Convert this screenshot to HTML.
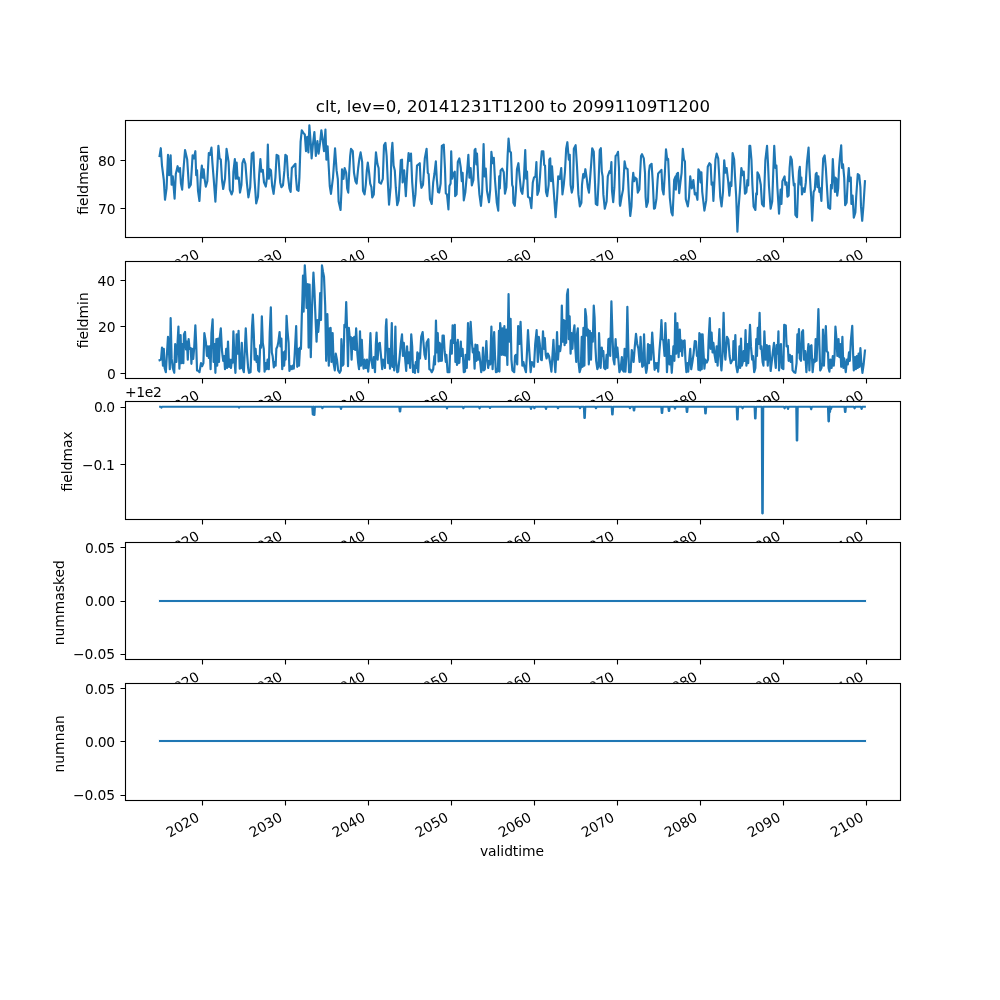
<!DOCTYPE html>
<html lang="en"><head><meta charset="utf-8"><title>clt, lev=0, 20141231T1200 to 20991109T1200</title>
<style>
html,body{margin:0;padding:0;background:#fff;width:1000px;height:1000px;overflow:hidden}
svg{display:block}
text{font-family:"DejaVu Sans","Liberation Sans",sans-serif;font-size:13.889px;fill:#000;}
.t{font-size:16.667px}
.ax{fill:#fff;stroke:none}
.sp{fill:none;stroke:#000;stroke-width:1.11;stroke-linecap:square}
.tk{fill:none;stroke:#000;stroke-width:1.11}
.ln{fill:none;stroke:#1f77b4;stroke-width:2.083;stroke-linejoin:round;stroke-linecap:square}
</style></head>
<body>
<svg width="1000" height="1000" viewBox="0 0 1000 1000">
<rect x="0" y="0" width="1000" height="1000" fill="#fff"/>
<g>
<rect class="ax" x="125" y="120" width="775" height="117.24"/>
<path class="ln" style="stroke-width:2.14" d="M159.6 156 L160.8 148.2 L162 165.6 L163.8 180 L165 199.8 L166.56 188.4 L168 154.8 L169.2 175.2 L170.64 155.4 L171.6 184.8 L172.8 176.4 L174.6 198.6 L175.8 174 L177.6 166.2 L178.8 171.6 L180 168 L180.96 183.6 L182.16 189.6 L183.6 168 L185.04 150 L187.2 159.6 L189 187.8 L190.8 184.8 L192.6 155.4 L193.8 158.4 L195.36 151.2 L196.2 175.2 L197.04 170.4 L198 190.8 L199.44 201 L201 174 L201.84 165.6 L202.8 177.6 L203.64 169.2 L204.6 178.8 L205.8 186.6 L207.36 181.2 L208.8 153 L210 154.8 L211.44 147.6 L212.4 162.6 L213.6 177.6 L215.4 201.6 L216.6 180 L217.44 165.6 L218.4 145.8 L219.6 158.4 L220.8 159.6 L222 180 L223.2 189 L225 178.8 L226.56 148.8 L228.6 162 L229.8 189.6 L231.6 194.4 L232.8 190.8 L233.4 171.6 L234.84 159 L235.8 178.8 L236.64 162.6 L237.6 178.8 L238.8 177.6 L240 192.6 L241.44 184.8 L242.4 163.2 L243.84 159 L245.4 163.8 L246.96 183.6 L248.4 197.4 L250.2 187.2 L251.76 153.6 L253.44 152.4 L254.4 177.6 L256.2 203.4 L258 196.8 L259.2 174 L260.4 159 L261.36 171.6 L262.8 169.8 L264 182.4 L265.8 186.6 L267 177.6 L267.84 144.6 L268.8 178.8 L270 169.2 L270.96 170.4 L272.16 186 L273.6 193.8 L275.4 177.6 L276.6 154.8 L278.4 156 L280.2 182.4 L281.4 187.2 L282.96 185.4 L284.4 170.4 L285.36 154.8 L286.8 156 L288 176.4 L289.44 188.4 L290.64 192 L291.84 168 L293.4 166.2 L295.44 163.8 L295.8 175.2 L297 189.6 L298.56 190.8 L299.4 177.6 L300.6 141.6 L301.8 130.2 L303.6 133.2 L304.8 134.4 L306 151.2 L307.2 136.8 L308.4 152.4 L309.36 125.4 L310.8 144 L311.64 158.4 L312.84 145.2 L314.4 132 L315.84 156 L317.4 141 L318.6 153.6 L320.16 142.2 L321.36 130.2 L322.8 140.4 L324 151.2 L325.44 129.6 L326.4 159.6 L327.6 146.4 L328.8 168 L329.76 186 L330.96 193.8 L333 177.6 L335.04 148.2 L336.6 170.4 L337.8 178.8 L338.64 201.6 L340.56 210 L341.4 192 L342 169.2 L343.44 178.8 L344.64 168 L346.2 172.8 L347.16 188.4 L348.24 192.6 L349.2 172.8 L350.16 156 L351 148.8 L352.8 151.2 L354 172.8 L355.44 181.2 L356.64 183.6 L358.2 168 L359.4 158.4 L360.6 152.4 L362.16 162 L363 190.8 L364.56 194.4 L365.76 184.8 L366.84 170.4 L367.8 162.6 L369 171.6 L370.2 183.6 L371.4 187.2 L372.24 197.4 L373.8 194.4 L375 168 L375.96 152.4 L377.4 163.8 L378.6 168 L379.2 182.4 L381 183.6 L382.8 178.8 L384 145.2 L385.44 142.8 L386.64 156 L387.84 182.4 L389.04 204.6 L390.6 187.2 L391.44 153.6 L392.4 142.8 L393.6 165.6 L394.8 170.4 L395.76 187.2 L397.2 205.2 L398.64 200.4 L399.6 183.6 L400.8 160.2 L402 159.6 L402.6 182.4 L404.16 170.4 L405.84 196.2 L407.4 168 L408.6 153 L409.8 160.8 L411 153.6 L412.2 182.4 L414 205.8 L415.44 194.4 L417 165.6 L419.76 163.2 L420.6 181.2 L421.44 187.8 L423 184.8 L424.8 158.4 L426.6 148.8 L427.8 172.8 L428.64 174 L429.96 199.2 L431.76 204 L433.2 182.4 L434.4 174 L435.84 161.4 L436.8 178.8 L438 192 L439.2 192.6 L440.64 183.6 L441.84 145.8 L443.76 144.6 L444.96 168 L445.8 193.2 L447 194.4 L448.44 209.4 L449.4 186 L450.6 183.6 L451.2 151.2 L452.16 178.8 L453.36 174 L454.8 171.6 L455.16 196.2 L456.6 194.4 L457.8 162 L459.36 158.4 L460.8 168 L461.76 181.2 L462.6 172.8 L463.8 200.4 L465.36 192 L467.4 168 L468.36 154.8 L469.44 177.6 L470.64 168 L471.84 185.4 L473.4 180 L474.6 150 L475.44 148.8 L476.4 164.4 L477 153.6 L478.2 177.6 L479.4 194.4 L480.96 205.8 L482.16 192 L483.6 144 L484.56 176.4 L485.76 168.6 L486.96 190.8 L489 202.2 L490.2 189.6 L491.4 151.8 L492.6 163.2 L493.8 157.8 L495 180 L496.8 202.8 L498.24 210.6 L499.2 176.4 L499.8 188.4 L500.64 170.4 L502.2 168.6 L503.76 172.2 L504.96 193.8 L506.4 187.2 L507.6 156 L508.56 138.6 L509.76 151.2 L510.96 152.4 L512.16 184.8 L513 187.2 L513.36 202.8 L514.8 205.8 L516 189.6 L516.96 169.2 L518.4 163.2 L519.6 176.4 L521.04 190.8 L522.36 193.8 L523.8 180 L525.24 150 L526.2 178.8 L527.04 171.6 L528 196.8 L529.8 198 L531.36 208.2 L532.8 182.4 L534 177.6 L535.44 176.4 L536.4 162 L537.36 195 L538.8 190.8 L540 176.4 L540.96 160.8 L541.8 151.2 L543.36 151.2 L544.2 165 L545.04 165.6 L546 192 L547.2 196.2 L548.64 184.8 L549.36 159.6 L550.2 158.4 L551.04 181.2 L552 166.2 L552.96 180 L554.16 196.8 L555.6 217.2 L557.04 198 L558.24 176.4 L559.8 178.8 L561.24 168 L562.44 194.4 L563.76 184.8 L564.96 171.6 L566.16 148.8 L567.36 142.2 L568.8 159.6 L569.76 154.8 L570.6 184.8 L571.8 192.6 L573 187.2 L573.84 148.8 L575.64 145.2 L576.96 165.6 L578.4 194.4 L579.84 206.4 L581.4 202.8 L582 184.8 L583.2 174 L584.16 177.6 L585.36 169.2 L586.8 178.8 L587.76 187.2 L588.96 192.6 L590.16 177.6 L591.36 161.4 L592.2 148.2 L593.76 151.8 L594.96 182.4 L595.8 204 L597.36 205.2 L598.56 182.4 L599.76 150 L600.84 148.2 L601.8 171.6 L602.64 176.4 L603.36 194.4 L604.8 208.8 L606.6 201.6 L607.8 176.4 L609.6 171 L610.56 172.8 L611.4 162 L612 190.8 L613.2 202.2 L614.4 187.2 L615.6 156 L616.8 154.8 L618 151.8 L618.96 168 L619.8 204 L620.16 205.8 L621.6 196.8 L623.04 189.6 L624.6 161.4 L625.8 168 L627.6 169.2 L628.8 194.4 L630.24 216 L631.44 206.4 L632.4 182.4 L633.24 172.8 L634.2 181.2 L635.04 177.6 L636.6 178.8 L637.8 192.6 L639.36 189.6 L640.2 171.6 L641.04 156 L642 154.2 L643.8 158.4 L645 172.8 L645.6 196.8 L646.44 207 L648 201.6 L648.96 171.6 L649.8 165.6 L651.6 163.8 L652.8 182.4 L654 208.8 L654.96 208.2 L656.4 199.2 L657.6 180 L658.2 173.4 L660 171.6 L661.44 169.8 L662.4 189.6 L663.6 194.4 L664.8 174 L666 149.4 L667.2 159.6 L668.16 159 L669 177.6 L669.84 198 L671.4 212.4 L672.6 215.4 L673.44 196.8 L674.16 180 L675.6 176.4 L675.84 189.6 L676.8 174 L678 172.8 L679.2 193.2 L680.4 182.4 L681.6 172.8 L682.8 148.8 L684 159.6 L684.96 161.4 L685.8 199.2 L687.84 206.4 L689.04 196.8 L690.24 176.4 L691.8 188.4 L693.36 180 L694.8 194.4 L696 193.2 L697.44 199.8 L698.4 169.2 L699.6 171.6 L700.56 182.4 L701.4 172.2 L702.24 192 L704.4 210.6 L706.2 200.4 L707.76 166.8 L709.44 163.2 L710.64 164.4 L711.6 184.8 L712.56 182.4 L713.4 201 L714.6 177.6 L715.44 159.6 L716.64 153.6 L718.2 158.4 L719.04 172.8 L720.24 196.8 L721.56 206.4 L723 192 L724.2 160.2 L725.4 172.8 L726.6 168 L728.16 181.2 L729.36 195.6 L730.56 182.4 L731.4 186 L732.6 153 L734.16 159.6 L735 176.4 L736.2 196.8 L737.4 231.6 L738.6 207.6 L739.8 192 L741.36 168 L742.8 175.2 L743.76 171.6 L744.96 193.8 L746.4 192 L747.36 180 L748.2 185.4 L749.4 145.8 L750.24 145.8 L751.44 159.6 L752.4 184.8 L753.6 206.4 L755.4 210 L756.24 193.2 L756.96 194.4 L757.44 172.2 L759 175.2 L760.8 184.8 L762 204 L763.8 206.4 L764.64 180 L765.36 160.2 L767.04 145.8 L768 163.2 L768.96 186 L770.64 208.8 L772.2 201.6 L773.4 168 L774.24 145.8 L775.44 168 L776.4 165.6 L777.36 187.2 L779.04 213.6 L780.6 189.6 L781.44 204 L782.4 181.2 L784.56 176.4 L785.4 184.8 L786.6 182.4 L787.44 196.8 L788.64 195.6 L789.6 168 L790.56 156.6 L791.76 159.6 L792.96 176.4 L793.8 185.4 L794.64 183.6 L795.36 214.8 L797.04 217.2 L798 190.8 L798.96 171.6 L799.8 166.8 L800.64 184.8 L801.36 177.6 L801.96 194.4 L803.4 188.4 L804.6 192 L805.8 182.4 L807 162 L808.56 147.6 L809.4 168 L810.6 188.4 L811.2 196.8 L812.16 220.8 L813.6 192 L814.8 189.6 L815.76 174 L816.6 172.8 L817.44 187.2 L818.4 176.4 L819.36 192 L820.2 188.4 L821.4 201 L822.24 180 L823.2 158.4 L824.64 155.4 L825.84 168 L827.04 188.4 L828.24 207.6 L830.16 208.8 L831 184.8 L831.84 188.4 L832.8 159 L833.76 176.4 L834.96 192 L835.44 177.6 L836.4 178.8 L837.24 195.6 L838.2 188.4 L839.04 168 L839.76 159 L841.2 145.2 L842.04 168 L843 164.4 L844.2 177.6 L845.16 205.2 L846.6 202.8 L847.8 180 L848.76 168 L849.6 181.2 L850.8 177.6 L851.4 204 L852.6 195.6 L853.8 217.8 L855.36 212.4 L856.2 196.8 L857.76 174 L859.2 175.2 L860.4 187.2 L861 206.4 L862.2 220.8 L863.4 206.4 L864.96 181.2"/>
<path class="tk" d="M202.5 237.5 V242.5 M285.5 237.5 V242.5 M368.5 237.5 V242.5 M451.5 237.5 V242.5 M534.5 237.5 V242.5 M617.5 237.5 V242.5 M700.5 237.5 V242.5 M783.5 237.5 V242.5 M866.5 237.5 V242.5 M120.5 208.5 H125.5 M120.5 160.5 H125.5"/>
<text text-anchor="end" transform="translate(200.35 257.14) rotate(-30)">2020</text>
<text text-anchor="end" transform="translate(283.39 257.14) rotate(-30)">2030</text>
<text text-anchor="end" transform="translate(366.4 257.14) rotate(-30)">2040</text>
<text text-anchor="end" transform="translate(449.44 257.14) rotate(-30)">2050</text>
<text text-anchor="end" transform="translate(532.46 257.14) rotate(-30)">2060</text>
<text text-anchor="end" transform="translate(615.5 257.14) rotate(-30)">2070</text>
<text text-anchor="end" transform="translate(698.51 257.14) rotate(-30)">2080</text>
<text text-anchor="end" transform="translate(781.55 257.14) rotate(-30)">2090</text>
<text text-anchor="end" transform="translate(864.57 257.14) rotate(-30)">2100</text>
<text text-anchor="end" x="115.6" y="214">70</text>
<text text-anchor="end" x="115.7" y="166">80</text>
<text text-anchor="middle" transform="translate(87.6 180.12) rotate(-90)">fieldmean</text>
<text class="t" text-anchor="middle" x="512.9" y="111.67" textLength="394.2">clt, lev=0, 20141231T1200 to 20991109T1200</text>
<rect class="sp" x="125.5" y="120.5" width="775" height="117"/>
</g>
<g>
<rect class="ax" x="125" y="260.69" width="775" height="117.24"/>
<path class="ln" style="stroke-width:2.19" d="M159.6 360.2 L161.04 359.6 L162 347.6 L162.96 365.6 L163.8 348.8 L164.64 368 L165.84 372.2 L166.8 356 L168 336.8 L168.96 351.2 L169.8 369.2 L170.64 318.2 L171.6 358.4 L172.8 368 L174.24 372.8 L175.2 344 L176.4 362 L177.36 346.4 L178.44 326.6 L179.4 368.6 L180.6 335 L181.44 363.2 L182.4 344 L183.36 363.2 L183.96 334.4 L185.04 332 L186 349.4 L186.96 341.6 L187.8 359.6 L188.64 339.2 L189.6 348.8 L190.8 348.2 L191.4 363.8 L192.24 348.8 L193.2 359 L194.16 348.2 L195.36 325.4 L196.2 344 L197.04 370.4 L198.6 371 L199.44 372.2 L201 363.2 L202.2 366.2 L203.4 363.2 L204.36 333.2 L205.8 341.6 L207 356 L207.84 346.4 L208.8 357.8 L209.64 346.4 L210.6 369.2 L211.44 333.2 L212.64 319.4 L213.6 362 L214.44 344 L215.4 372.8 L216.36 339.2 L217.2 365.6 L218.16 338.6 L219 362 L219.84 336.8 L220.8 328.4 L222 351.2 L223.2 360.8 L224.16 356 L225 369.2 L226.2 348.8 L227.04 368 L228 341.6 L228.96 366.8 L229.8 359.6 L231 368 L231.84 359.6 L232.56 362.6 L233.4 331.4 L234.6 362 L235.44 372.8 L236.64 334.4 L237.6 353.6 L238.56 330.8 L239.76 368.6 L240.96 368 L241.8 342.8 L242.64 368 L243.84 372.2 L244.8 350 L245.76 328.4 L246.96 352.4 L248.16 368 L249 372.8 L250.56 372.2 L251.4 347.6 L252 327.2 L252.84 314.6 L253.8 334.4 L254.64 359.6 L255.6 348.8 L256.56 362 L257.4 356 L258.24 370.4 L259.2 371.6 L260.16 345.2 L261 347.6 L261.84 316.4 L262.8 342.8 L263.76 348.8 L264.6 371.6 L265.8 363.2 L266.64 369.2 L267.6 359.6 L268.8 369.2 L269.76 332 L270.84 307.4 L271.8 352.4 L272.64 356 L273.84 367.4 L274.8 362 L275.64 365.6 L276.36 348.8 L277.44 346.4 L278.4 341.6 L279.6 332 L280.44 346.4 L281.4 338.6 L282.24 369.2 L283.44 352.4 L284.16 365.6 L285 351.2 L285.6 359.6 L286.56 315.8 L287.4 329.6 L288.6 342.8 L289.44 371 L291 366.2 L291.84 369.2 L292.8 365.6 L293.76 368.6 L294.6 356 L296.16 326 L297.24 366.8 L298.2 348.8 L299.04 365.6 L300 347.6 L300.96 348.8 L301.8 316.4 L302.4 299.6 L303 275.6 L303.6 311.6 L304.8 265.4 L305.76 281.6 L306.6 308 L307.8 284 L308.64 347.6 L309.6 284.6 L310.8 357.2 L312 308 L313.44 272.6 L314.4 290 L315.6 320 L316.56 341.6 L317.4 320 L318.24 332 L319.2 320 L320.16 293 L321 320 L321.96 265.4 L323.04 272 L324 276.8 L325.2 305.6 L326.16 360.8 L327.36 314 L328.8 365.6 L329.76 328.4 L330.6 327.8 L331.44 362 L332.64 333.2 L333.6 363.2 L334.8 370.4 L335.76 353.6 L336.96 359.6 L338.16 370.4 L339.6 372.8 L340.8 370.4 L341.4 339.2 L342.6 365.6 L343.44 364.4 L344.4 324.8 L345.36 327.2 L346.2 302 L347.04 327.2 L348 366.2 L348.84 327.8 L349.8 338 L350.64 336.8 L351.6 359.6 L352.56 338 L353.4 348.8 L354.24 336.8 L355.2 350 L356.16 328.4 L357.36 353.6 L358.2 363.2 L359.04 369.2 L360 331.4 L360.96 365.6 L361.8 339.8 L362.64 358.4 L363.6 368.6 L364.56 359.6 L365.76 368 L366.96 359.6 L368.16 371.6 L369.36 359.6 L370.44 333.2 L371.4 359.6 L372.6 368 L373.8 357.2 L375 372.2 L375.84 344 L376.56 332.6 L377.64 359.6 L378.6 344 L379.8 342.8 L381 356 L382.2 369.2 L383.04 359.6 L384 360.2 L384.96 368 L385.8 327.2 L386.4 319.4 L387.36 347.6 L388.2 363.2 L389.04 348.8 L390 368.6 L390.96 351.2 L391.8 323 L392.4 366.8 L393.24 356 L394.2 370.4 L395.4 326.6 L396 359.6 L397.2 372.2 L398.16 371.6 L399.36 359.6 L400.8 344 L402 334.4 L402.96 356 L403.8 342.8 L405 357.2 L406.2 371 L407.04 346.4 L408 363.2 L408.96 352.4 L410.16 368 L411.24 334.4 L412.2 346.4 L413.04 372.2 L414 365.6 L414.96 372.8 L415.8 362 L416.64 368 L417.36 352.4 L418.2 372.2 L419.04 353.6 L420 358.4 L421.2 336.8 L422.64 332 L423.6 344 L424.56 354.8 L425.64 359 L426.6 342.8 L428.4 339.2 L429.36 369.2 L430.56 369.8 L431.76 372.2 L433.2 369.2 L434.4 356 L435 364.4 L435.96 320.6 L436.8 352.4 L437.76 333.2 L438.6 361.4 L439.56 342.8 L440.4 360.8 L441.36 344 L441.84 360.8 L442.56 335.6 L443.76 335.6 L444.6 351.2 L445.8 362 L446.4 354.8 L447.6 372.2 L449.4 372.2 L450 353.6 L450.96 340.4 L451.8 353.6 L452.64 325.4 L453.6 342.8 L454.8 324.8 L455.4 362 L456.24 342.8 L456.96 365 L457.8 339.8 L458.64 363.2 L459.36 362.6 L460.8 341.6 L461.4 356 L462.6 348.8 L463.8 372.2 L465 371.6 L465.6 354.8 L466.8 368 L468 323 L469.2 359.6 L470.64 321.8 L471.84 341.6 L472.8 352.4 L473.76 348.8 L474.6 368.6 L475.44 344.6 L476.4 360.8 L477.36 345.2 L478.2 359.6 L479.04 352.4 L480 359.6 L481.2 372.2 L482.16 368 L483 347.6 L483.84 370.4 L484.8 369.2 L486.36 341 L487.2 358.4 L488.16 368 L489.36 360.8 L490.2 364.4 L491.4 326.6 L492.6 369.2 L494.16 332 L495 356 L495.96 372.2 L497.4 371.6 L498 368 L498.96 330.8 L499.44 371.6 L500.16 323 L501 332 L501.6 354.8 L502.56 328.4 L503.4 354.8 L504.36 326 L505.2 355.4 L506.16 329.6 L507.36 365 L508.56 294.2 L509.4 341.6 L510.6 318.8 L511.44 359.6 L512.4 370.4 L514.2 372.2 L515.04 356 L516 354.8 L517.2 364.4 L518.16 326 L519.36 344 L520.56 321.8 L521.4 344 L522.36 365.6 L523.44 362 L524.4 366.8 L525.96 372.2 L526.8 356 L528 330.2 L528.96 346.4 L529.8 358.4 L530.64 372.2 L531.84 362 L533.04 363.2 L534 366.8 L535.2 344 L536.64 330.2 L537.84 362 L538.8 336.8 L539.76 344 L540.96 359.6 L541.8 360.2 L543 331.4 L543.96 348.8 L544.8 338 L545.76 354.8 L546.6 358.4 L547.8 353.6 L549 356 L550.2 363.2 L551.4 371.6 L552.6 353.6 L553.44 339.8 L554.4 359.6 L555.36 372.2 L556.2 356 L557.04 332 L558 359.6 L558.96 346.4 L560.16 351.2 L561 344 L561.84 305.6 L562.8 341.6 L563.76 320 L564.6 345.2 L565.44 321.2 L566.16 342.8 L567 294.8 L567.96 289.4 L568.8 339.2 L569.64 316.4 L570.6 353.6 L571.44 333.2 L572.4 348.8 L573.36 333.2 L574.44 325.4 L575.4 348.8 L576.24 362 L576.96 334.4 L577.8 328.4 L578.64 363.2 L579.6 372.2 L580.8 368 L581.76 336.8 L582.6 366.8 L583.44 327.8 L584.4 365.6 L585.24 309.2 L586.2 316.4 L587.04 335.6 L588 329.6 L588.84 364.4 L589.8 330.8 L591 359.6 L591.84 333.2 L592.8 341.6 L593.76 305.6 L594.6 317.6 L595.44 347.6 L596.16 360.8 L597.36 369.2 L598.56 365.6 L599.04 333.2 L600.6 368 L601.8 347.6 L602.64 356 L603.36 351.2 L604.2 368 L605.4 369.2 L606.6 354.8 L607.44 368 L608.4 339.2 L609.36 338.6 L610.2 356 L611.4 301.4 L612.6 339.2 L613.44 359.6 L614.4 364.4 L615.6 339.2 L616.56 357.2 L617.4 347.6 L618.6 362 L619.44 372.2 L620.64 369.2 L621.84 357.2 L622.8 370.4 L623.76 371.6 L624.6 348.8 L625.44 371.6 L626.4 356 L627.36 306.8 L628.2 344 L629.04 372.2 L630.6 372.2 L631.8 350 L632.64 356 L633.6 362 L634.8 346.4 L636 333.8 L637.2 344 L638.4 348.8 L639.6 362 L640.56 336.8 L641.4 353.6 L642.24 366.8 L643.2 365.6 L644.04 334.4 L645 363.2 L646.2 372.8 L647.04 368 L648 344 L648.96 363.2 L649.8 345.2 L651 359.6 L652.2 332.6 L653.4 351.2 L654.6 369.8 L655.8 363.2 L656.64 368 L657.36 363.2 L658.2 371.6 L659.4 351.2 L660.6 336.8 L661.44 320 L662.4 339.2 L663.36 340.4 L664.56 356 L665.4 323 L666.24 344 L666.96 372.2 L667.8 356 L668.64 339.8 L669.6 364.4 L670.8 356 L671.76 372.8 L672.6 359.6 L673.44 346.4 L674.4 360.8 L675.24 313.4 L676.2 353.6 L677.4 323 L678.6 357.2 L679.8 329.6 L680.64 351.2 L681.6 340.4 L682.2 356 L683.04 341.6 L684.6 340.4 L685.44 359.6 L686.4 372.2 L687.6 363.2 L688.2 371.6 L689.04 362 L690.24 348.8 L691.2 369.2 L692.4 362 L693.6 353.6 L694.8 341 L696 341.6 L696.96 356 L697.8 353.6 L698.4 369.8 L699.36 333.2 L700.2 370.4 L701.04 334.4 L701.76 369.2 L702.6 334.4 L703.44 351.2 L704.4 368.6 L705.36 359.6 L706.8 362.6 L708 359.6 L708.6 340.4 L709.8 318.2 L710.64 348.8 L711.6 332.6 L712.56 352.4 L713.4 342.8 L714.6 354.8 L715.8 362 L716.64 346.4 L717.6 365.6 L718.56 346.4 L719.4 329 L720.24 356 L721.44 370.4 L722.4 356 L723.6 312.8 L724.56 350 L725.4 359.6 L726.96 336.8 L728.4 339.8 L729.6 356 L730.8 363.2 L732 360.8 L732.96 359.6 L733.44 341 L734.16 359.6 L735.36 335 L736.2 365.6 L737.4 372.2 L738.6 365.6 L739.44 346.4 L740.16 368 L741 338.6 L741.84 365.6 L742.8 362 L743.64 351.2 L744.6 360.8 L745.56 330.2 L746.4 365.6 L747.36 344 L748.2 363.2 L749.04 345.2 L750 324.8 L750.96 346.4 L752.16 359.6 L753 356 L754.2 372.2 L755.4 368 L756.24 339.2 L756.96 356 L757.8 327.8 L758.64 344 L759.6 312.8 L760.56 348.8 L761.4 346.4 L762.6 362 L763.44 365.6 L764.4 331.4 L765.6 359.6 L766.8 345.2 L767.76 365.6 L768.6 346.4 L769.44 345.8 L770.64 371 L771.6 363.2 L772.8 352.4 L774 342.8 L774.96 359.6 L775.8 368 L776.64 345.2 L777.6 353.6 L778.44 331.4 L779.04 370.4 L780 351.2 L780.96 344 L781.8 368 L783.36 369.2 L784.2 324.8 L785.76 325.4 L786.6 346.4 L787.8 345.8 L788.64 360.8 L789.84 354.8 L790.8 362 L792 356 L792.6 370.4 L794.16 372.2 L795.36 372.8 L796.56 363.2 L797.4 334.4 L798 352.4 L798.96 329 L799.8 358.4 L801 360.8 L801.96 332 L803.04 330.2 L804 359.6 L805.2 351.2 L806.4 372.2 L807.36 356 L808.44 344 L809.4 370.4 L810.24 346.4 L811.44 345.2 L812.64 372.2 L813.84 359.6 L814.8 362 L815.64 339.2 L816.6 360.8 L817.44 338 L818.4 309.2 L819.36 344 L820.2 370.4 L821.4 368 L822.24 363.2 L822.96 329.6 L823.92 365.6 L825 341.6 L825.84 326 L826.8 351.2 L828 352.4 L828.6 368 L829.44 371.6 L830.4 359.6 L831.6 368 L832.8 356 L833.76 365.6 L834.6 354.8 L835.44 326.6 L836.4 338 L837.36 356 L838.56 339.2 L839.4 357.2 L840.24 344 L841.2 366.8 L842.4 336.8 L843.36 368 L844.2 358.4 L845.76 372.2 L846.96 359.6 L847.8 364.4 L849 352.4 L849.84 360.8 L850.8 341.6 L852.24 325.76 L853.2 356 L853.8 370.4 L855 357.2 L855.84 369.2 L856.8 356 L857.76 368 L858.6 353.6 L859.44 366.8 L860.4 348.2 L861.36 363.2 L862.44 372.8 L863.64 364.4 L864.96 350.6"/>
<path class="tk" d="M202.5 378.5 V383.5 M285.5 378.5 V383.5 M368.5 378.5 V383.5 M451.5 378.5 V383.5 M534.5 378.5 V383.5 M617.5 378.5 V383.5 M700.5 378.5 V383.5 M783.5 378.5 V383.5 M866.5 378.5 V383.5 M120.5 373.5 H125.5 M120.5 326.5 H125.5 M120.5 280.5 H125.5"/>
<text text-anchor="end" transform="translate(200.35 398.13) rotate(-30)">2020</text>
<text text-anchor="end" transform="translate(283.39 398.13) rotate(-30)">2030</text>
<text text-anchor="end" transform="translate(366.4 398.13) rotate(-30)">2040</text>
<text text-anchor="end" transform="translate(449.44 398.13) rotate(-30)">2050</text>
<text text-anchor="end" transform="translate(532.46 398.13) rotate(-30)">2060</text>
<text text-anchor="end" transform="translate(615.5 398.13) rotate(-30)">2070</text>
<text text-anchor="end" transform="translate(698.51 398.13) rotate(-30)">2080</text>
<text text-anchor="end" transform="translate(781.55 398.13) rotate(-30)">2090</text>
<text text-anchor="end" transform="translate(864.57 398.13) rotate(-30)">2100</text>
<text text-anchor="end" x="115.8" y="379">0</text>
<text text-anchor="end" x="115.6" y="332">20</text>
<text text-anchor="end" x="115.2" y="286">40</text>
<text text-anchor="middle" transform="translate(87.82 320.31) rotate(-90)">fieldmin</text>
<rect class="sp" x="125.5" y="261.5" width="775" height="117"/>
</g>
<g>
<rect class="ax" x="125" y="401.38" width="775" height="117.24"/>
<path class="ln" style="stroke-width:2.15" d="M160.2 406.7 L160.7 406.7 L161.4 407.6 L162.1 406.7 L238.3 406.7 L239 407.6 L239.7 406.7 L312.3 406.7 L312.78 414.5 L313.22 414.5 L313.7 406.7 L313.98 415 L314.42 415 L314.9 406.7 L321.7 406.7 L322.4 408.2 L323.1 406.7 L340.3 406.7 L341 409 L341.7 406.7 L399.3 406.7 L399.78 411.4 L400.22 411.4 L400.7 406.7 L446.3 406.7 L447 408.4 L447.7 406.7 L462.7 406.7 L463.4 408.2 L464.1 406.7 L478.9 406.7 L479.6 408.4 L480.3 406.7 L489.3 406.7 L490 408 L490.7 406.7 L530.3 406.7 L531 409 L531.7 406.7 L533.7 406.7 L534.4 408.2 L535.1 406.7 L545.3 406.7 L546 409 L546.7 406.7 L557.3 406.7 L558 408.2 L558.7 406.7 L579.3 406.7 L580 408.2 L580.7 406.7 L583.9 406.7 L584.38 418 L584.82 418 L585.3 406.7 L595.3 406.7 L596 408.2 L596.7 406.7 L611.7 406.7 L612.18 414.4 L612.62 414.4 L613.1 406.7 L629.3 406.7 L630 408.2 L630.7 406.7 L633.3 406.7 L633.78 410.4 L634.22 410.4 L634.7 406.7 L661.3 406.7 L661.78 413 L662.22 413 L662.7 406.7 L668.3 406.7 L668.78 411 L669.22 411 L669.7 406.7 L674.3 406.7 L675 408.6 L675.7 406.7 L686.3 406.7 L686.78 412 L687.22 412 L687.7 406.7 L704.8 406.7 L705.28 413.5 L705.72 413.5 L706.2 406.7 L736.7 406.7 L737.18 419.5 L737.62 419.5 L738.1 406.7 L741.9 406.7 L742.6 408.3 L743.3 406.7 L754.6 406.7 L755.08 418.5 L755.52 418.5 L756 406.7 L761.8 406.7 L762.28 513.3 L762.72 513.3 L763.2 406.7 L783.9 406.7 L784.6 408.3 L785.3 406.7 L787.3 406.7 L788 409 L788.7 406.7 L796.3 406.7 L796.78 440.5 L797.22 440.5 L797.7 406.7 L810.5 406.7 L811.2 409.3 L811.9 406.7 L828 406.7 L828.48 421.3 L828.92 421.3 L829.4 406.7 L829.58 412 L830.02 412 L830.5 406.7 L831 409 L831.7 406.7 L844.5 406.7 L844.98 411.8 L845.42 411.8 L845.9 406.7 L853.9 406.7 L854.6 408.3 L855.3 406.7 L860.9 406.7 L861.6 409 L862.3 406.7 L864.8 406.7"/>
<path class="tk" d="M202.5 519.5 V524.5 M285.5 519.5 V524.5 M368.5 519.5 V524.5 M451.5 519.5 V524.5 M534.5 519.5 V524.5 M617.5 519.5 V524.5 M700.5 519.5 V524.5 M783.5 519.5 V524.5 M866.5 519.5 V524.5 M120.5 464.5 H125.5 M120.5 407.5 H125.5"/>
<text text-anchor="end" transform="translate(200.35 538.82) rotate(-30)">2020</text>
<text text-anchor="end" transform="translate(283.39 538.82) rotate(-30)">2030</text>
<text text-anchor="end" transform="translate(366.4 538.82) rotate(-30)">2040</text>
<text text-anchor="end" transform="translate(449.44 538.82) rotate(-30)">2050</text>
<text text-anchor="end" transform="translate(532.46 538.82) rotate(-30)">2060</text>
<text text-anchor="end" transform="translate(615.5 538.82) rotate(-30)">2070</text>
<text text-anchor="end" transform="translate(698.51 538.82) rotate(-30)">2080</text>
<text text-anchor="end" transform="translate(781.55 538.82) rotate(-30)">2090</text>
<text text-anchor="end" transform="translate(864.57 538.82) rotate(-30)">2100</text>
<text text-anchor="end" x="114.9" y="470" textLength="32.8">−0.1</text>
<text text-anchor="end" x="115.1" y="412" textLength="21.1">0.0</text>
<text x="125" y="397.48" textLength="36.8">+1e2</text>
<text text-anchor="middle" transform="translate(71.6 461.4) rotate(-90)">fieldmax</text>
<rect class="sp" x="125.5" y="401.5" width="775" height="118"/>
</g>
<g>
<rect class="ax" x="125" y="542.07" width="775" height="117.24"/>
<rect x="158" y="599" width="709" height="4" fill="#1f77b4" fill-opacity="0.045"/>
<path class="ln" d="M160.04 601 L864.96 601"/>
<path class="tk" d="M202.5 659.5 V664.5 M285.5 659.5 V664.5 M368.5 659.5 V664.5 M451.5 659.5 V664.5 M534.5 659.5 V664.5 M617.5 659.5 V664.5 M700.5 659.5 V664.5 M783.5 659.5 V664.5 M866.5 659.5 V664.5 M120.5 654.5 H125.5 M120.5 601.5 H125.5 M120.5 547.5 H125.5"/>
<text text-anchor="end" transform="translate(200.35 679.51) rotate(-30)">2020</text>
<text text-anchor="end" transform="translate(283.39 679.51) rotate(-30)">2030</text>
<text text-anchor="end" transform="translate(366.4 679.51) rotate(-30)">2040</text>
<text text-anchor="end" transform="translate(449.44 679.51) rotate(-30)">2050</text>
<text text-anchor="end" transform="translate(532.46 679.51) rotate(-30)">2060</text>
<text text-anchor="end" transform="translate(615.5 679.51) rotate(-30)">2070</text>
<text text-anchor="end" transform="translate(698.51 679.51) rotate(-30)">2080</text>
<text text-anchor="end" transform="translate(781.55 679.51) rotate(-30)">2090</text>
<text text-anchor="end" transform="translate(864.57 679.51) rotate(-30)">2100</text>
<text text-anchor="end" x="115.1" y="659" textLength="42.2">−0.05</text>
<text text-anchor="end" x="115.1" y="606" textLength="30">0.00</text>
<text text-anchor="end" x="115.1" y="553" textLength="30">0.05</text>
<text text-anchor="middle" transform="translate(64.07 602.69) rotate(-90)">nummasked</text>
<rect class="sp" x="125.5" y="542.5" width="775" height="117"/>
</g>
<g>
<rect class="ax" x="125" y="682.76" width="775" height="117.24"/>
<rect x="158" y="739" width="709" height="4" fill="#1f77b4" fill-opacity="0.045"/>
<path class="ln" d="M160.04 741 L864.96 741"/>
<path class="tk" d="M202.5 800.5 V805.5 M285.5 800.5 V805.5 M368.5 800.5 V805.5 M451.5 800.5 V805.5 M534.5 800.5 V805.5 M617.5 800.5 V805.5 M700.5 800.5 V805.5 M783.5 800.5 V805.5 M866.5 800.5 V805.5 M120.5 795.5 H125.5 M120.5 741.5 H125.5 M120.5 688.5 H125.5"/>
<text text-anchor="end" transform="translate(200.35 820.2) rotate(-30)">2020</text>
<text text-anchor="end" transform="translate(283.39 820.2) rotate(-30)">2030</text>
<text text-anchor="end" transform="translate(366.4 820.2) rotate(-30)">2040</text>
<text text-anchor="end" transform="translate(449.44 820.2) rotate(-30)">2050</text>
<text text-anchor="end" transform="translate(532.46 820.2) rotate(-30)">2060</text>
<text text-anchor="end" transform="translate(615.5 820.2) rotate(-30)">2070</text>
<text text-anchor="end" transform="translate(698.51 820.2) rotate(-30)">2080</text>
<text text-anchor="end" transform="translate(781.55 820.2) rotate(-30)">2090</text>
<text text-anchor="end" transform="translate(864.57 820.2) rotate(-30)">2100</text>
<text text-anchor="end" x="115.1" y="800" textLength="42.2">−0.05</text>
<text text-anchor="end" x="115.1" y="747" textLength="30">0.00</text>
<text text-anchor="end" x="115.1" y="694" textLength="30">0.05</text>
<text text-anchor="middle" transform="translate(64.07 743.88) rotate(-90)">numnan</text>
<text text-anchor="middle" x="512" y="855.5" textLength="64.1">validtime</text>
<rect class="sp" x="125.5" y="683.5" width="775" height="117"/>
</g>
</svg>
</body></html>
